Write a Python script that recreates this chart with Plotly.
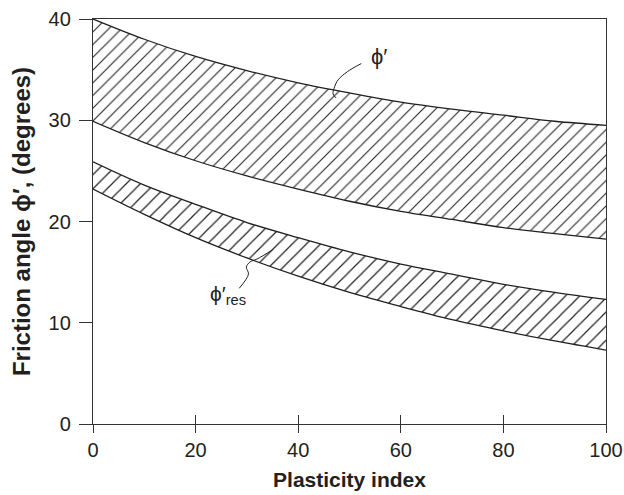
import plotly.graph_objects as go

# Plasticity index sample points
plasticity_index = [0, 10, 20, 30, 40, 50, 60, 70, 80, 90, 100]

# Peak friction angle band (degrees)
phi_peak_upper = [40.0, 38.0, 36.3, 34.9, 33.7, 32.7, 31.8, 31.1, 30.5, 29.9, 29.5]
phi_peak_lower = [29.9, 27.8, 26.0, 24.5, 23.2, 22.0, 21.0, 20.2, 19.4, 18.8, 18.25]

# Residual friction angle band (degrees)
phi_res_upper = [25.9, 23.6, 21.7, 19.9, 18.4, 17.0, 15.8, 14.8, 13.8, 13.0, 12.3]
phi_res_lower = [23.2, 20.7, 18.4, 16.4, 14.6, 13.0, 11.6, 10.3, 9.2, 8.2, 7.3]

x_ticks = [0, 20, 40, 60, 80, 100]
y_ticks = [0, 10, 20, 30, 40]

# Label anchors and leader-line paths (plasticity index, degrees)
peak_label = (55.8, 36.3)
peak_leader_x = [52.3, 49.6, 47.8, 47.1, 46.8, 47.4]
peak_leader_y = [35.6, 34.8, 34.0, 33.3, 32.6, 32.2]
res_label = (26.3, 12.7)
res_leader_x = [28.5, 30.3, 29.9, 30.6, 32.0, 35.0]
res_leader_y = [13.4, 14.8, 15.5, 16.0, 16.3, 17.2]

INK = "#231f20"
FONT = "Liberation Sans, Arial, Helvetica, sans-serif"

fig = go.Figure()


def add_band(lower, upper, size):
    fig.add_trace(go.Scatter(
        x=plasticity_index, y=lower, mode="lines",
        line=dict(color=INK, width=1.3, shape="spline"),
        hoverinfo="skip", showlegend=False,
    ))
    fig.add_trace(go.Scatter(
        x=plasticity_index, y=upper, mode="lines",
        line=dict(color=INK, width=1.3, shape="spline"),
        fill="tonexty", fillcolor="rgba(0,0,0,0)",
        fillpattern=dict(shape="/", size=size, solidity=0.12,
                         fgcolor=INK, bgcolor="white", fillmode="replace"),
        hoverinfo="skip", showlegend=False,
    ))


add_band(phi_res_lower, phi_res_upper, 10)
add_band(phi_peak_lower, phi_peak_upper, 9)

for lx, ly in ((peak_leader_x, peak_leader_y), (res_leader_x, res_leader_y)):
    fig.add_trace(go.Scatter(
        x=lx, y=ly, mode="lines",
        line=dict(color=INK, width=1, shape="spline"),
        hoverinfo="skip", showlegend=False,
    ))

# carrier for the inward half of the x ticks
fig.add_trace(go.Scatter(
    x=[x_ticks[0], x_ticks[-1]], y=[None, None], xaxis="x2", mode="lines",
    hoverinfo="skip", showlegend=False,
))

fig.add_annotation(x=peak_label[0], y=peak_label[1], text="ϕ′",
                   showarrow=False, font=dict(family=FONT, size=22, color=INK))
fig.add_annotation(x=res_label[0], y=res_label[1], text="ϕ′<sub>res</sub>",
                   showarrow=False, font=dict(family=FONT, size=21, color=INK))

axis_common = dict(
    showline=True, linecolor="#333333", linewidth=1.3, mirror=True,
    showgrid=False, zeroline=False, ticks="outside", tickwidth=1.3,
    tickcolor="#333333", tickfont=dict(family=FONT, size=20, color=INK),
    automargin=False,
)

fig.update_layout(
    width=624, height=495,
    margin=dict(l=93, r=18, t=19, b=71),
    paper_bgcolor="white", plot_bgcolor="white",
    xaxis=dict(
        range=[0, 100], tickvals=x_ticks, ticklen=8,
        title=dict(text="<b>Plasticity index</b>", standoff=12,
                   font=dict(family=FONT, size=21, color=INK)),
        **axis_common,
    ),
    xaxis2=dict(
        range=[0, 100], tickvals=x_ticks, overlaying="x", anchor="y",
        side="bottom", ticks="inside", ticklen=9, tickwidth=1.3,
        tickcolor="#333333", showticklabels=False, showgrid=False,
        zeroline=False, showline=False,
    ),
    yaxis=dict(
        range=[0, 40], tickvals=y_ticks, ticklen=13, ticklabelstandoff=4,
        title=dict(text="<b>Friction angle ϕ′, (degrees)</b>", standoff=11,
                   font=dict(family=FONT, size=24, color=INK)),
        **axis_common,
    ),
)

fig.write_html("out.html")
